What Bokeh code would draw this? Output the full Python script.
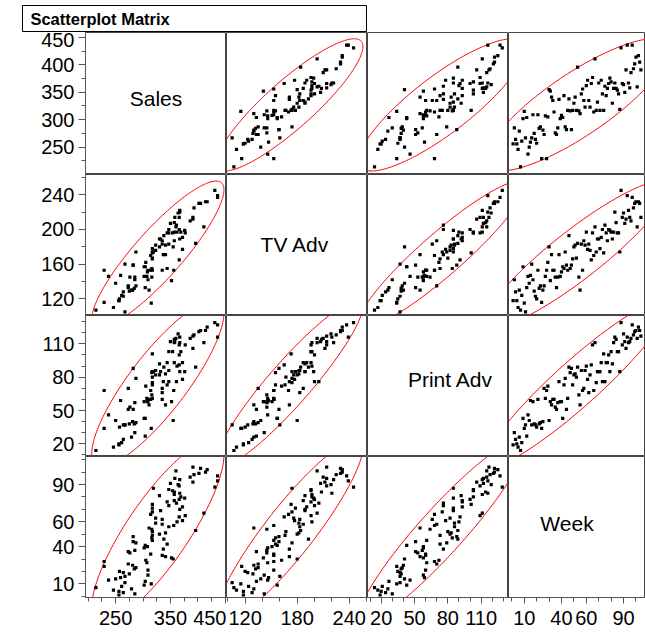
import numpy as np
from bokeh.plotting import figure
from bokeh.layouts import gridplot, column
from bokeh.models import Range1d, FixedTicker, Label, LinearAxis, AllLabels
from bokeh.embed import file_html
from bokeh.resources import INLINE

# ---------------- data ----------------
week = list(range(1, 105))
sales = [256, 285, 264, 256, 246, 279, 214, 261, 302, 315,
         267, 304, 237, 250, 259, 267, 309, 275, 264, 257,
         309, 284, 287, 229, 281, 273, 307, 229, 305, 355,
         352, 341, 335, 314, 276, 273, 285, 337, 302, 308,
         304, 344, 287, 282, 317, 338, 316, 282, 317, 330,
         341, 317, 396, 316, 311, 347, 356, 335, 323, 362,
         372, 335, 323, 366, 377, 314, 411, 317, 332, 367,
         317, 372, 347, 317, 361, 344, 357, 366, 376, 369,
         330, 357, 367, 357, 354, 347, 319, 431, 366, 364,
         350, 391, 436, 367, 358, 386, 436, 393, 402, 414,
         360, 417, 405, 391]
tv_adv = [118, 142, 128, 118, 110, 130, 107, 124,
          157, 115, 105, 133, 146, 138, 147, 160,
          142, 129, 123, 120, 153, 132, 135, 116,
          130, 135, 146, 153, 162, 180, 141, 171,
          153, 153, 145, 133, 145, 171, 146, 151,
          157, 155, 174, 159, 153, 193, 155, 159,
          166, 180, 182, 167, 184, 145, 130, 183,
          153, 187, 182, 197, 177, 183, 176, 165,
          196, 170, 203, 174, 189, 189, 178, 191,
          200, 173, 205, 196, 187, 200, 199, 197,
          189, 197, 220, 208, 196, 196, 174, 245,
          214, 219, 207, 212, 239, 222, 214, 210,
          237, 225, 230, 232, 203, 232, 230, 214]
print_adv = [19, 30, 24, 20, 17, 26, 14, 21,
             43, 34, 37, 27, 46, 41, 59, 37,
             58, 38, 37, 35, 60, 38, 39, 34,
             40, 70, 61, 68, 72, 41, 58, 55,
             60, 60, 53, 51, 57, 76, 58, 58,
             43, 73, 79, 51, 61, 89, 84, 88,
             73, 82, 83, 80, 89, 64, 55, 86,
             68, 70, 86, 90, 78, 66, 82, 91,
             109, 68, 111, 75, 85, 85, 85, 93,
             76, 101, 76, 93, 93, 100, 85, 103,
             92, 111, 116, 114, 103, 103, 85, 129,
             109, 119, 112, 106, 116, 111, 112, 115,
             127, 118, 121, 122, 115, 125, 122, 117]

names = ["Sales", "TV Adv", "Print Adv", "Week"]
series = [sales, tv_adv, print_adv, week]

# axis tick labels
left_ticks = [[250, 300, 350, 400, 450], [120, 160, 200, 240], [20, 50, 80, 110], [10, 40, 60, 90]]
bottom_ticks = [[250, 350, 450], [120, 180, 240], [20, 50, 80, 110], [10, 40, 60, 90]]
minor_ticks = [list(range(175, 476, 25)), list(range(80, 281, 20)),
               list(range(0, 141, 10)), list(range(-10, 121, 10))]

# axis ranges
y_lims = [(200.0, 459.1), (100.8, 263.4), (8.6, 135.5), (-1.0, 112.6)]
x_lims = [(195.0, 452.3), (98.5, 261.1), (7.7, 134.6), (-2.7, 107.7)]

# layout sizes (px)
col_w = [141, 141, 141, 137]
row_h = [142, 141, 141, 141]
LEFT = 85
BOTTOM = 35
FONT = "Liberation Sans"

# diagonal label anchor (fraction of a 141px cell from left / from top)
diag_pos = [(0.50, 0.465), (0.486, 0.496), (0.589, 0.454), (0.415, 0.472)]

xr = [Range1d(*l) for l in x_lims]
yr = [Range1d(*l) for l in y_lims]


def density_ellipse(xv, yv, level=0.95, n=240):
    x = np.asarray(xv, float)
    y = np.asarray(yv, float)
    cov = np.cov(x, y)
    vals, vecs = np.linalg.eigh(cov)
    r = np.sqrt(-2.0 * np.log(1.0 - level))
    t = np.linspace(0, 2 * np.pi, n)
    circ = np.vstack([np.cos(t), np.sin(t)])
    pts = vecs @ (np.sqrt(vals)[:, None] * circ) * r
    return x.mean() + pts[0], y.mean() + pts[1]


def style_axis(ax, major, minor):
    ax.ticker = FixedTicker(ticks=major, minor_ticks=minor)
    ax.major_label_policy = AllLabels()
    ax.major_label_text_font = FONT
    ax.major_label_text_font_size = "20px"
    ax.major_label_text_color = "black"
    ax.axis_line_color = "#555555"
    ax.axis_line_width = 1
    ax.major_tick_line_color = "#555555"
    ax.minor_tick_line_color = "#555555"
    ax.major_tick_in = 0
    ax.minor_tick_in = 0


rows = []
for i in range(4):
    row = []
    for j in range(4):
        p = figure(frame_width=col_w[j], frame_height=row_h[i],
                   x_range=xr[j], y_range=yr[i],
                   output_backend="svg", toolbar_location=None,
                   x_axis_location=None, y_axis_location=None,
                   min_border_left=LEFT if j == 0 else 0,
                   min_border_right=0, min_border_top=0,
                   min_border_bottom=BOTTOM if i == 3 else 0)
        p.xgrid.visible = False
        p.ygrid.visible = False
        p.outline_line_color = "#444444"
        p.outline_line_width = 1
        p.background_fill_color = "white"
        p.border_fill_color = "white"
        if i == j:
            fx, fy = diag_pos[i]
            x0, x1 = x_lims[j]
            y0, y1 = y_lims[i]
            p.add_layout(Label(x=x0 + fx * (x1 - x0) * 141 / col_w[j],
                               y=y1 - fy * (y1 - y0),
                               text=names[i], text_align="center", text_baseline="middle",
                               text_font=FONT, text_font_size="21px", text_color="black"))
        else:
            ex, ey = density_ellipse(series[j], series[i])
            p.line(ex, ey, line_color="#ff0000", line_width=1)
            p.scatter(series[j], series[i], marker="square", size=3.2,
                      fill_color="black", line_color=None)
        if j == 0:
            ax = LinearAxis()
            style_axis(ax, left_ticks[i], minor_ticks[i])
            ax.major_tick_out = 7
            ax.minor_tick_out = 4
            ax.major_label_standoff = 4
            p.add_layout(ax, "left")
        if i == 3:
            ax = LinearAxis()
            style_axis(ax, bottom_ticks[j], minor_ticks[j])
            ax.major_tick_out = 6
            ax.minor_tick_out = 4
            ax.major_label_standoff = 7
            p.add_layout(ax, "below")
        row.append(p)
    rows.append(row)

grid = gridplot(rows, toolbar_location=None)

# title box
tp = figure(frame_width=345, frame_height=27, x_range=Range1d(0, 1), y_range=Range1d(0, 1),
            output_backend="svg", toolbar_location=None,
            x_axis_location=None, y_axis_location=None,
            min_border_left=22, min_border_right=0, min_border_top=5, min_border_bottom=0)
tp.xgrid.visible = False
tp.ygrid.visible = False
tp.outline_line_color = "black"
tp.outline_line_width = 1
tp.add_layout(Label(x=0.023, y=0.5, text="Scatterplot Matrix", text_align="left",
                    text_baseline="middle", text_font=FONT, text_font_size="16.5px",
                    text_font_style="bold", text_color="black"))

layout = column(tp, grid, spacing=0)

open("out.html", "w").write(file_html(layout, INLINE))
